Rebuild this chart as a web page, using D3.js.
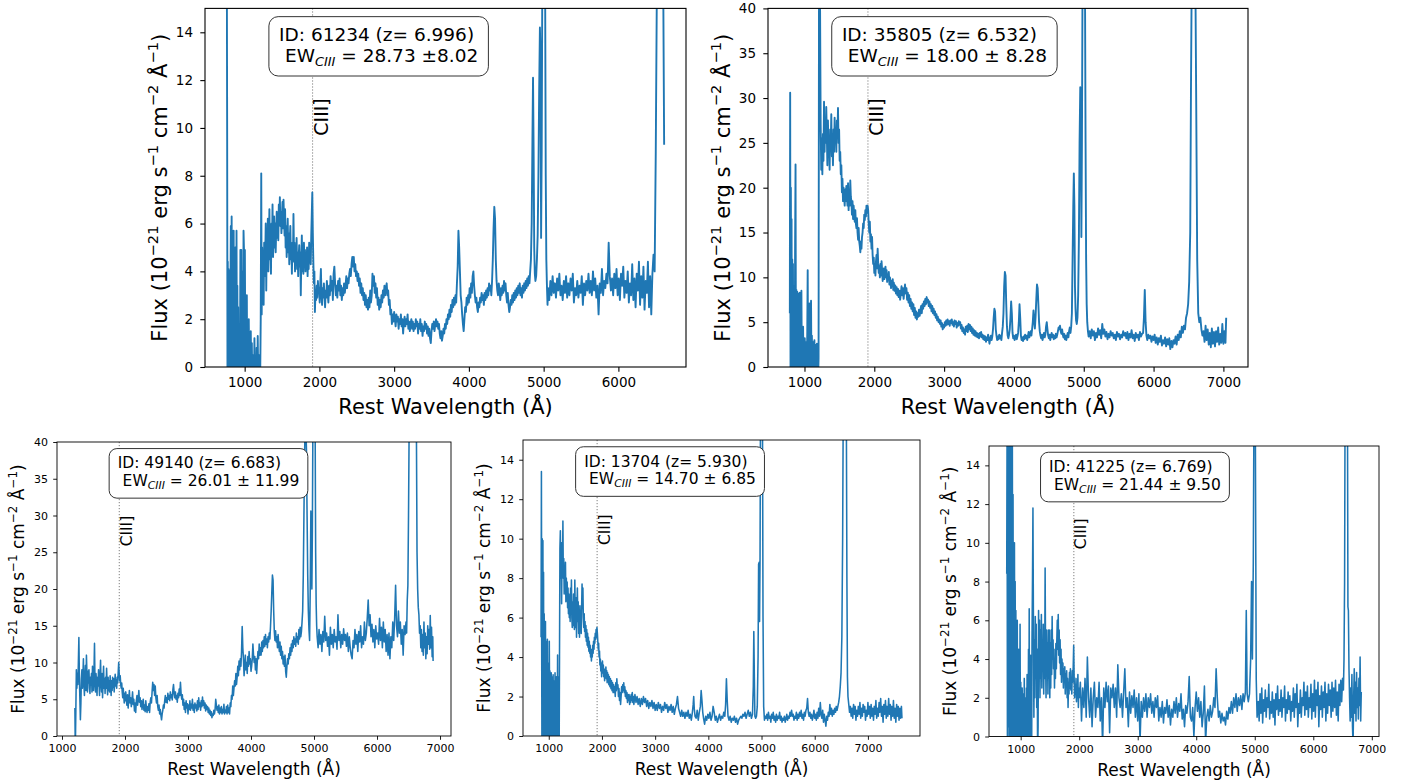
<!DOCTYPE html>
<html lang="en">
<head>
<meta charset="UTF-8" />
<title>CIII] spectra</title>
<script src="https://d3js.org/d3.v7.min.js"></script>
<style>
  body { margin: 0; background: #fff; }
  svg text { font-family: "DejaVu Sans", sans-serif; fill: #000; }
</style>
</head>
<body>
<svg id="fig" width="1411" height="782"></svg>
<script>
// ---- data ----
var ids = ["61234", "35805", "49140", "13704", "41225"];
var redshifts = ["6.996", "6.532", "6.683", "5.930", "6.769"];
var ewText = ["28.73 \u00b18.02", "18.00 \u00b1 8.28", "26.01 \u00b1 11.99", "14.70 \u00b1 6.85", "21.44 \u00b1 9.50"];
var ciiiWave = 1909;
var yMax = [15, 40, 40, 15, 15];
var xTicks = [
  [1000, 2000, 3000, 4000, 5000, 6000],
  [1000, 2000, 3000, 4000, 5000, 6000, 7000],
  [1000, 2000, 3000, 4000, 5000, 6000, 7000],
  [1000, 2000, 3000, 4000, 5000, 6000, 7000],
  [1000, 2000, 3000, 4000, 5000, 6000, 7000]
];
var yTicks = [
  [0, 2, 4, 6, 8, 10, 12, 14],
  [0, 5, 10, 15, 20, 25, 30, 35, 40],
  [0, 5, 10, 15, 20, 25, 30, 35, 40],
  [0, 2, 4, 6, 8, 10, 12, 14],
  [0, 2, 4, 6, 8, 10, 12, 14]
];

// [rest wavelength, flux]
var spec61234 = [[762,16],[766,9.7],[770,0],[774,4.4],[779,-1],[784,4.1],[789,3.8],[794,-1],[799,4.0],[804,-0.5],[809,2.4],[815,5.9],[820,-1],[826,6.3],[831,0.3],[837,5.7],[842,-1],[848,3.1],[853,5.7],[858,-1],[864,2.2],[869,-1],[875,5.0],[880,4.3],[886,-1],[891,5.7],[897,-0.5],[902,3.4],[908,-1],[913,2.5],[919,-1],[925,1.0],[931,1.0],[937,-1],[943,4.9],[949,-1],[955,4.9],[961,0.8],[967,-1],[973,4.0],[979,-1],[985,5.7],[991,4.9],[997,-1],[1003,4.9],[1010,-1],[1016,1.4],[1022,-1],[1029,3.0],[1035,-1],[1042,1.2],[1048,-1],[1055,2.0],[1062,-0.5],[1068,0.9],[1075,-1],[1082,1.5],[1089,-1],[1096,1.0],[1103,-1],[1110,0.5],[1117,-1],[1124,-1],[1131,1.2],[1138,-1],[1146,0.3],[1153,-1],[1160,0.8],[1168,-1],[1175,1.3],[1183,-1],[1190,0.5],[1198,-1],[1206,-1],
[1215,2.0],[1222,8.1],[1228,2.2],[1234,5.0],[1240,3.4],[1247,4.8],[1254,2.6],[1261,5.2],[1268,3.8],[1275,4.5],[1282,6.0],[1289,3.2],[1296,5.5],[1303,4.8],[1310,6.2],[1317,4.0],[1324,5.0],[1331,6.6],[1338,4.5],[1345,5.8],[1352,3.9],[1359,6.0],[1366,5.2],[1373,6.8],[1380,4.6],[1387,5.5],[1394,6.3],[1401,5.0],[1408,6.0],[1415,4.8],[1422,5.7],[1429,6.5],[1436,5.4],[1443,6.1],[1450,5.3],[1457,6.8],[1464,6.0],[1471,7.1],[1478,5.9],[1485,6.5],[1492,5.6],[1499,6.3],[1506,6.9],[1513,5.8],[1520,7.0],[1527,6.2],[1534,5.5],[1541,6.6],[1548,5.0],[1555,5.9],[1562,4.6],[1569,5.5],[1576,6.2],[1583,4.8],[1590,5.6],[1597,4.3],[1604,5.3],[1611,5.9],[1618,4.5],[1625,5.0],[1632,3.9],[1639,5.2],[1646,4.4],[1653,6.4],[1660,4.8],[1667,5.2],[1674,4.0],[1681,5.0],[1688,4.3],[1695,5.4],[1702,4.1],[1709,4.8],[1716,3.8],[1723,4.6],[1730,5.1],[1737,4.2],[1744,4.8],[1751,3.0],[1758,4.5],[1765,5.5],[1772,4.0],[1779,4.6],[1786,3.9],[1793,5.2],[1800,4.4],[1807,4.9],[1814,4.0],[1821,4.7],[1828,4.2],[1835,5.0],[1842,3.8],[1849,4.6],[1856,4.1],[1863,5.2],[1870,4.5],[1877,4.8],[1884,4.3],[1891,5.5],[1898,6.4],[1905,7.3],[1912,5.6],[1919,4.4],[1926,3.5],[1933,4.0],[1940,2.3],[1948,3.2],[1956,2.8],[1964,3.4],[1972,2.9],[1980,3.6],[1988,3.1],[1996,3.3],
[2004,2.7],[2012,3.5],[2020,4.1],[2028,3.0],[2036,2.6],[2044,3.3],[2052,2.9],[2060,3.5],[2068,3.0],[2076,2.5],[2084,3.2],[2092,2.9],[2100,3.6],[2110,3.1],[2120,2.7],[2130,3.4],[2140,3.0],[2150,3.8],[2160,3.2],[2170,3.6],[2180,2.8],[2190,3.9],[2200,4.2],[2210,3.5],[2220,3.0],[2230,3.4],[2240,2.9],[2250,3.6],[2260,3.2],[2270,3.7],[2280,3.0],[2290,3.4],[2300,2.8],[2310,3.3],[2320,3.0],[2330,3.5],[2340,3.1],[2350,3.4],[2360,3.8],[2370,3.3],[2380,3.7],[2390,3.5],[2400,3.9],[2410,4.1],[2420,3.8],[2430,4.3],[2440,4.6],[2450,4.2],[2460,4.6],[2470,4.0],[2480,4.3],[2490,3.8],[2500,4.0],[2510,3.6],[2520,3.9],[2530,3.4],[2540,3.7],[2550,3.1],[2560,3.5],[2570,3.0],[2580,3.3],[2590,2.8],[2600,3.1],[2610,2.6],[2620,3.0],[2630,2.5],[2640,2.8],[2650,2.4],[2660,2.9],[2670,2.5],[2680,3.2],[2690,2.7],[2700,3.0],[2710,3.9],[2720,3.4],[2730,3.8],[2740,3.1],[2750,3.5],[2760,2.9],[2770,3.3],[2780,2.6],[2790,2.9],[2800,2.4],[2810,2.8],[2820,2.5],[2830,3.0],[2840,2.7],[2850,3.2],[2860,2.9],[2870,3.4],[2880,3.0],[2890,3.3],[2900,3.5],[2910,3.0],[2920,3.2],[2930,2.6],[2940,2.8],[2950,2.2],[2960,2.4],[2970,1.8],[2980,2.2],[2990,1.9],
[3000,2.3],[3010,2.0],[3020,1.7],[3030,2.2],[3040,1.9],[3050,2.1],[3060,1.6],[3070,2.0],[3080,1.8],[3090,2.2],[3100,1.7],[3110,2.0],[3120,1.4],[3130,1.9],[3140,2.1],[3150,1.7],[3160,2.0],[3170,1.8],[3180,2.2],[3190,1.6],[3200,1.9],[3210,1.5],[3220,1.8],[3230,2.0],[3240,1.6],[3250,1.9],[3260,1.5],[3270,1.8],[3280,1.6],[3290,2.0],[3300,1.7],[3310,1.9],[3320,1.4],[3330,1.8],[3340,1.6],[3350,2.0],[3360,1.5],[3370,1.8],[3380,1.3],[3390,1.7],[3400,1.5],[3410,1.9],[3420,1.6],[3430,1.8],[3440,1.4],[3450,1.7],[3460,1.3],[3470,1.6],[3480,1.2],[3490,1.0],[3500,1.5],[3510,1.8],[3520,1.6],[3530,1.9],[3540,1.5],[3550,1.8],[3560,2.0],[3570,1.7],[3580,1.9],[3590,1.6],[3600,1.8],[3610,1.4],[3620,1.2],[3630,1.5],[3640,1.1],[3650,1.3],[3660,1.6],[3670,1.4],[3680,1.8],[3690,1.6],[3700,2.0],[3710,1.8],[3720,2.2],[3730,2.0],[3740,2.4],[3750,2.1],[3760,2.6],[3770,2.3],[3780,2.8],[3790,2.5],[3800,2.9],[3810,2.6],[3820,3.0],[3830,2.7],[3840,3.5],[3850,4.2],[3860,5.7],[3870,5.0],[3880,4.0],[3890,3.0],[3900,2.7],[3910,2.2],[3920,1.8],[3930,1.5],[3940,2.0],[3950,2.5],[3960,2.3],[3970,2.9],[3980,2.6],[3990,3.0],
[4000,2.7],[4010,3.3],[4020,2.9],[4030,3.5],[4040,3.1],[4050,3.8],[4060,4.0],[4070,3.4],[4080,3.0],[4090,2.7],[4100,2.9],[4110,2.5],[4120,2.3],[4130,2.7],[4140,2.5],[4150,2.9],[4160,2.7],[4170,3.1],[4180,2.8],[4190,3.0],[4200,2.6],[4210,3.1],[4220,2.8],[4230,3.2],[4240,2.9],[4250,3.3],[4260,3.0],[4270,3.5],[4280,3.2],[4290,3.4],[4300,3.0],[4310,3.6],[4320,4.5],[4330,5.8],[4340,6.7],[4350,6.2],[4360,4.5],[4370,3.6],[4380,3.2],[4390,3.0],[4400,3.5],[4410,3.2],[4420,2.8],[4430,3.3],[4440,3.0],[4450,3.4],[4460,3.1],[4470,3.6],[4480,3.2],[4490,3.5],[4500,3.0],[4510,2.7],[4520,3.1],[4530,2.6],[4540,2.3],[4550,2.5],[4560,2.8],[4570,2.6],[4580,3.0],[4590,2.7],[4600,3.1],[4610,2.8],[4620,3.2],[4630,2.9],[4640,3.3],[4650,3.0],[4660,3.4],[4670,3.1],[4680,3.5],[4690,3.0],[4700,3.3],[4710,2.9],[4720,3.4],[4730,3.1],[4740,3.5],[4750,3.2],[4760,3.6],[4770,3.3],[4780,3.7],[4790,3.4],[4800,3.8],[4810,3.5],[4820,4.0],[4830,4.5],[4840,6.0],[4850,9.5],[4858,12.1],[4866,9.0],[4874,5.0],[4882,3.9],[4890,3.6],[4900,3.8],[4910,4.5],[4920,5.5],[4930,8.0],[4940,11.5],[4950,14.2],[4958,13.0],[4966,5.4],[4974,9.0],[4982,16],[5000,16],[5020,16],[5028,8.0],[5036,4.5],[5044,3.4],[5052,2.6],
[5060,3.3],[5075,2.8],[5090,3.6],[5105,3.0],[5120,3.8],[5135,3.1],[5150,3.5],[5165,2.9],[5180,3.7],[5195,3.2],[5210,3.9],[5225,3.0],[5240,3.4],[5255,2.8],[5270,3.6],[5285,3.1],[5300,3.8],[5315,2.9],[5330,3.5],[5345,3.0],[5360,3.7],[5375,3.2],[5390,3.9],[5405,2.7],[5420,3.3],[5435,3.0],[5450,3.6],[5465,2.9],[5480,3.4],[5495,3.1],[5510,3.8],[5525,2.6],[5540,3.5],[5555,3.0],[5570,3.6],[5585,3.2],[5600,3.9],[5615,3.1],[5630,3.6],[5645,3.0],[5660,4.0],[5675,3.2],[5690,3.7],[5705,2.9],[5720,3.4],[5735,2.2],[5750,3.5],[5765,3.1],[5780,4.1],[5795,3.0],[5810,3.6],[5825,3.3],[5840,3.9],[5855,3.5],[5870,5.2],[5885,3.8],[5900,3.2],[5915,3.7],[5930,3.0],[5945,3.9],[5960,3.3],[5975,4.1],[5990,3.0],[6005,3.7],[6020,2.8],[6035,3.9],[6050,3.4],[6065,4.2],[6080,2.9],[6095,3.6],[6110,3.1],[6125,4.0],[6140,2.7],[6155,3.5],[6170,3.0],[6185,4.3],[6200,2.8],[6215,3.7],[6230,2.5],[6245,3.9],[6260,3.2],[6275,4.4],[6290,2.6],[6305,3.8],[6320,2.9],[6335,4.2],[6350,2.4],[6365,3.6],[6380,3.1],[6395,4.4],[6410,2.5],[6425,3.8],[6440,2.2],[6455,3.9],[6470,4.7],[6485,4.0],[6500,9.0],[6515,16],[6560,16],[6600,16],[6612,9.3]];

var spec35805 = [[790,6],[795,30.6],[800,0],[805,20],[810,3],[815,16.5],[820,-1],[825,12],[830,2],[835,11.5],[840,-1],[845,9],[850,1],[855,8.8],[860,-1],[866,14],[872,22.6],[878,-1],[884,8.6],[890,0.5],[896,8.4],[902,-1],[908,8.2],[914,2],[920,5.6],[926,-1],[932,8.3],[938,1],[944,4.2],[950,-1],[956,8.5],[962,0.5],[968,2.0],[974,-1],[980,4.5],[986,0],[992,2.5],[998,-1],[1004,3.2],[1010,0.3],[1016,1.8],[1022,-1],[1028,2.8],[1034,0],[1040,4.0],[1046,10.8],[1052,-1],[1058,3.0],[1064,0.2],[1070,7.1],[1076,-1],[1082,5.0],[1088,0],[1094,7.4],[1100,-1],[1106,3.5],[1112,0],[1118,2.8],[1124,-1],[1130,2.7],[1136,0],[1142,3.0],[1148,-1],[1154,2.5],[1160,0],[1166,2.2],[1172,-1],[1178,2.6],[1184,0],[1190,1.5],[1196,-1],[1202,1.0],
[1208,42],[1222,42],[1232,27],[1240,22],[1248,25.5],[1256,21.5],[1264,26],[1272,23],[1280,29.6],[1288,24],[1296,27.5],[1304,25],[1312,29],[1320,26],[1328,22.5],[1336,27.5],[1344,24],[1352,25.5],[1360,22],[1368,26.5],[1376,24.5],[1384,28.2],[1392,23.5],[1400,25],[1408,22.5],[1416,26.5],[1424,24],[1432,27.8],[1440,25],[1448,26.5],[1456,24],[1464,27.5],[1472,25.5],[1480,28.9],[1488,25],[1496,26.5],[1504,23],[1512,24],[1520,21.5],[1528,22.5],[1536,19.5],[1544,21],[1552,18.5],[1560,20],[1568,19],[1576,18],[1584,19.8],[1592,18.5],[1600,20.2],[1608,19],[1616,18],[1624,20.5],[1632,17.5],[1640,19.5],[1648,18],[1656,20.8],[1664,19],[1672,18.5],[1680,17],[1688,18.5],[1696,16.5],[1704,18],[1712,17],[1720,16.2],[1728,17.5],[1736,16],[1744,15.5],[1752,16.6],[1760,15],[1768,14.2],[1776,15.5],[1784,14],[1792,13.5],[1800,12.8],[1808,14],[1816,13.2],[1824,14.5],[1832,15],[1840,16],[1848,15.5],[1856,17],[1864,16.4],[1872,17.5],[1880,16.8],[1888,18],[1896,17.2],[1904,18],[1912,17.5],[1920,16],[1928,15],[1936,16.2],[1944,14],[1952,14.8],[1960,13.2],[1968,14.5],[1976,12.5],[1984,11.5],[1992,12.2],
[2000,10.5],[2008,11.5],[2016,10.2],[2024,11.8],[2032,12.5],[2040,11],[2048,13.2],[2056,11.5],[2064,10.5],[2072,11.2],[2080,10],[2088,11.5],[2096,10.2],[2104,11.8],[2112,10.8],[2120,9.6],[2128,10.5],[2136,11],[2144,9.8],[2152,10.6],[2160,11.2],[2168,10],[2176,10.8],[2184,9.5],[2192,10.3],[2200,9.8],[2208,10.6],[2216,9.2],[2224,10],[2232,9.5],[2240,8.8],[2248,9.6],[2256,9],[2264,9.8],[2272,8.6],[2280,9.4],[2290,8.5],[2300,9.1],[2310,8.2],[2320,8.9],[2330,8],[2340,8.7],[2350,7.8],[2360,8.5],[2370,7.5],[2380,8.2],[2390,9],[2400,8],[2410,8.8],[2420,7.6],[2430,8.5],[2440,9.2],[2450,8.2],[2460,8.8],[2470,7.5],[2480,8.3],[2490,7.2],[2500,8],[2510,6.8],[2520,7.6],[2530,6.5],[2540,7.2],[2550,6.2],[2560,7],[2570,5.8],[2580,6.6],[2590,5.5],[2600,6.2],[2610,5.3],[2620,6.0],[2630,5.6],[2640,6.4],[2650,5.7],[2660,6.3],[2670,6.8],[2680,6.0],[2690,7.0],[2700,6.5],[2710,7.3],[2720,6.8],[2730,7.6],[2740,7.0],[2750,7.8],[2760,7.2],[2770,7.5],[2780,6.8],[2790,7.3],[2800,6.6],[2810,7.0],[2820,6.2],[2830,6.8],[2840,6.0],[2850,6.5],[2860,5.8],[2870,6.2],[2880,5.5],[2890,5.9],[2900,5.2],[2910,5.6],[2920,5.0],[2930,5.3],[2940,4.8],[2950,5.2],[2960,4.5],[2970,4.9],[2980,4.2],[2990,4.7],
[3000,4.4],[3010,5.0],[3020,4.6],[3030,5.2],[3040,4.7],[3050,5.3],[3060,4.8],[3070,5.1],[3080,4.6],[3090,5.2],[3100,4.9],[3110,5.3],[3120,4.7],[3130,5.0],[3140,4.5],[3150,5.2],[3160,4.8],[3170,5.1],[3180,4.4],[3190,4.9],[3200,4.6],[3210,5.1],[3220,4.7],[3230,5.0],[3240,4.3],[3250,4.7],[3260,4.0],[3270,4.4],[3280,3.8],[3290,4.2],[3300,3.6],[3310,4.5],[3320,4.0],[3330,4.6],[3340,3.9],[3350,4.8],[3360,4.2],[3370,4.7],[3380,4.0],[3390,4.5],[3400,3.8],[3410,4.3],[3420,3.6],[3430,4.1],[3440,3.5],[3450,4.0],[3460,3.4],[3470,3.8],[3480,3.3],[3490,3.7],[3500,3.2],[3510,3.8],[3520,3.4],[3530,3.9],[3540,3.3],[3550,3.6],[3560,3.1],[3570,3.5],[3580,3.0],[3590,3.4],[3600,2.8],[3610,3.3],[3620,3.0],[3630,3.6],[3640,3.1],[3650,2.6],[3660,3.2],[3670,3.5],[3680,3.0],[3690,3.4],[3700,4.2],[3710,5.5],[3720,6.5],[3730,6.2],[3740,4.2],[3750,3.5],[3760,3.0],[3770,3.4],[3780,3.1],[3790,3.6],[3800,3.2],[3810,3.5],[3820,3.0],[3830,3.8],[3840,4.5],[3850,6.0],[3860,9.0],[3870,10.6],[3880,10.2],[3890,7.0],[3900,4.5],[3910,3.5],[3920,3.2],[3930,3.6],[3940,4.2],[3950,5.5],[3960,7.3],[3970,6.0],[3980,3.8],[3990,3.2],
[4000,3.5],[4010,3.0],[4020,3.3],[4030,3.6],[4040,3.1],[4050,3.4],[4060,3.8],[4070,5.0],[4080,7.0],[4090,5.5],[4100,3.5],[4110,3.0],[4120,3.3],[4130,2.9],[4140,3.4],[4150,3.1],[4160,3.6],[4170,3.2],[4180,3.5],[4190,3.0],[4200,3.4],[4210,3.9],[4220,3.3],[4230,3.6],[4240,4.0],[4250,3.5],[4260,4.2],[4270,5.0],[4280,6.3],[4290,5.2],[4300,4.3],[4310,5.6],[4320,7.5],[4330,9.2],[4340,8.8],[4350,7.0],[4360,5.0],[4370,4.0],[4380,3.5],[4390,3.2],[4400,3.6],[4410,3.0],[4420,3.4],[4430,3.8],[4440,3.3],[4450,3.6],[4460,4.5],[4470,5.0],[4480,4.2],[4490,3.5],[4500,3.2],[4510,3.6],[4520,3.0],[4530,3.4],[4540,3.8],[4550,3.3],[4560,3.6],[4570,3.1],[4580,3.5],[4590,3.2],[4600,3.7],[4610,3.3],[4620,3.6],[4630,4.0],[4640,4.4],[4650,4.2],[4660,4.6],[4670,4.0],[4680,3.7],[4690,4.2],[4700,3.6],[4710,3.3],[4720,3.7],[4730,3.1],[4740,3.5],[4750,3.0],[4760,3.4],[4770,3.8],[4780,3.3],[4790,4.0],[4800,4.4],[4810,3.8],[4820,4.5],[4830,6.0],[4840,12],[4850,18],[4858,21.6],[4866,18],[4874,9.0],[4882,6.5],[4890,5.2],[4900,4.8],[4910,5.5],[4920,8.0],[4930,14],[4940,25],[4950,31.2],[4958,28],[4966,14.5],[4974,25],[4982,42],[5000,42],[5018,42],[5026,25],[5034,12],[5042,7.0],[5050,5.0],[5060,4.0],[5070,3.4],
[5085,4.0],[5100,3.2],[5115,4.2],[5130,3.5],[5145,4.0],[5160,3.0],[5175,3.8],[5190,3.3],[5205,4.3],[5220,3.6],[5235,4.1],[5250,3.2],[5265,4.8],[5280,3.7],[5295,4.2],[5310,3.4],[5325,3.9],[5340,3.1],[5355,3.7],[5370,3.3],[5385,4.0],[5400,3.5],[5415,3.8],[5430,3.2],[5445,3.6],[5460,3.0],[5475,3.9],[5490,3.4],[5505,3.7],[5520,3.1],[5535,3.6],[5550,3.3],[5565,4.0],[5580,3.5],[5595,3.8],[5610,3.2],[5625,3.9],[5640,3.0],[5655,3.7],[5670,3.3],[5685,4.1],[5700,3.2],[5715,3.6],[5730,2.9],[5745,3.8],[5760,3.3],[5775,3.6],[5790,3.0],[5805,3.9],[5820,3.4],[5835,3.7],[5850,3.8],[5862,5.5],[5874,8.6],[5886,5.0],[5898,3.5],[5910,3.0],[5925,3.6],[5940,3.2],[5955,3.5],[5970,2.8],[5985,3.4],[6000,3.0],[6015,3.6],[6030,2.7],[6045,3.3],[6060,2.5],[6075,3.2],[6090,2.8],[6105,3.5],[6120,2.4],[6135,3.0],[6150,2.6],[6165,3.3],[6180,2.3],[6195,3.1],[6210,2.5],[6225,3.2],[6240,2.0],[6255,2.9],[6270,2.2],[6285,3.0],[6300,2.6],[6315,3.4],[6330,2.5],[6345,3.6],[6360,3.0],[6375,4.0],[6390,3.3],[6405,4.5],[6420,3.8],[6435,4.6],[6450,4.2],[6465,5.5],[6480,6.0],[6495,7.0],[6510,9.5],[6525,15],[6535,30],[6545,42],[6600,42],[6612,28],[6625,12],[6640,6.0],[6655,5.0],[6670,5.5],[6685,4.2],[6700,3.5],[6715,4.0],[6730,2.8],[6745,4.6],[6760,3.0],[6775,4.2],[6790,2.5],[6805,3.8],[6820,2.2],[6835,4.3],[6850,2.6],[6865,3.9],[6880,2.3],[6895,4.0],[6910,2.8],[6925,4.4],[6940,2.5],[6955,3.7],[6970,2.7],[6985,4.8],[7000,2.6],[7015,4.0],[7030,2.7],[7040,5.5]];

var spec49140 = [[1205,3.8],[1210,-1],[1215,0.3],[1220,3.5],[1228,9.0],[1236,6.5],[1244,8.5],[1252,7.0],[1260,10.0],[1268,13.4],[1276,8.0],[1284,5.0],[1292,2.2],[1300,4.5],[1308,7.8],[1316,9.0],[1324,6.5],[1332,8.2],[1340,10.5],[1348,7.0],[1356,5.5],[1364,8.0],[1372,9.6],[1380,6.2],[1388,11.0],[1396,8.5],[1404,6.0],[1412,8.8],[1420,7.2],[1428,9.0],[1436,6.5],[1444,5.8],[1452,8.0],[1460,7.0],[1468,8.5],[1476,6.0],[1484,9.5],[1492,7.5],[1500,6.2],[1508,8.8],[1516,12.6],[1524,7.0],[1532,6.0],[1540,8.5],[1548,7.2],[1556,5.5],[1564,8.0],[1572,6.8],[1580,9.0],[1588,7.0],[1596,5.5],[1604,8.2],[1612,10.3],[1620,7.0],[1628,6.0],[1636,8.5],[1644,5.2],[1652,7.5],[1660,9.5],[1668,6.5],[1676,7.8],[1684,5.8],[1692,8.0],[1700,6.5],[1708,9.2],[1716,7.0],[1724,5.6],[1732,8.0],[1740,6.2],[1748,7.5],[1756,6.0],[1764,8.2],[1772,6.8],[1780,5.5],[1788,7.5],[1796,6.2],[1804,8.0],[1812,6.6],[1820,7.8],[1828,6.0],[1836,7.2],[1844,8.4],[1852,6.8],[1860,7.6],[1868,6.5],[1876,8.0],[1884,7.2],[1892,8.6],[1900,10.0],[1908,8.5],[1916,7.5],[1924,8.2],[1932,7.0],[1940,6.5],[1948,7.2],[1956,6.0],[1964,5.2],[1972,6.5],[1980,5.5],[1988,4.5],[1996,5.8],
[2004,4.8],[2012,6.0],[2020,5.0],[2030,4.2],[2040,5.6],[2050,3.8],[2060,5.0],[2070,6.2],[2080,4.5],[2090,5.2],[2100,4.0],[2110,4.8],[2120,6.0],[2130,4.3],[2140,5.0],[2150,3.4],[2160,4.5],[2170,3.2],[2180,4.8],[2190,5.5],[2200,4.2],[2210,5.0],[2220,6.2],[2230,4.6],[2240,5.2],[2250,4.0],[2260,4.8],[2270,3.6],[2280,4.5],[2290,5.0],[2300,3.5],[2310,4.2],[2320,3.3],[2330,4.8],[2340,3.8],[2350,3.2],[2360,4.0],[2370,3.5],[2380,4.4],[2390,3.2],[2400,4.6],[2410,5.2],[2420,4.5],[2430,6.0],[2440,7.3],[2450,6.2],[2460,7.0],[2470,5.5],[2480,6.8],[2490,5.2],[2500,4.5],[2510,5.5],[2520,4.0],[2530,3.5],[2540,4.2],[2550,3.0],[2560,3.6],[2570,2.8],[2580,2.2],[2590,3.0],[2600,3.5],[2610,4.2],[2620,3.8],[2630,4.8],[2640,5.5],[2650,4.6],[2660,5.2],[2670,4.5],[2680,5.8],[2690,5.0],[2700,5.5],[2710,4.8],[2720,6.0],[2730,5.2],[2740,5.6],[2750,4.9],[2760,6.3],[2770,7.0],[2780,5.8],[2790,5.2],[2800,6.0],[2810,5.0],[2820,5.5],[2830,4.6],[2840,5.8],[2850,5.2],[2860,6.4],[2870,5.5],[2880,7.3],[2890,5.8],[2900,5.0],[2910,5.6],[2920,4.2],[2930,5.0],[2940,3.6],[2950,4.5],[2960,3.2],[2970,4.8],[2980,3.8],[2990,4.4],
[3000,3.0],[3010,4.2],[3020,3.6],[3030,4.8],[3040,3.5],[3050,4.3],[3060,3.8],[3070,5.0],[3080,3.5],[3090,4.2],[3100,3.2],[3110,4.5],[3120,3.8],[3130,4.2],[3140,3.4],[3150,4.8],[3160,3.6],[3170,5.2],[3180,4.0],[3190,4.5],[3200,3.5],[3210,4.8],[3220,4.0],[3230,5.3],[3240,4.2],[3250,4.8],[3260,3.8],[3270,4.5],[3280,3.4],[3290,4.2],[3300,3.6],[3310,4.0],[3320,3.2],[3330,3.8],[3340,3.0],[3350,3.5],[3360,2.8],[3370,3.3],[3380,2.5],[3390,3.0],[3400,2.8],[3410,3.5],[3420,3.0],[3430,3.6],[3440,5.0],[3450,4.2],[3460,3.5],[3470,4.0],[3480,3.2],[3490,4.2],[3500,3.0],[3510,3.8],[3520,3.2],[3530,4.0],[3540,3.0],[3550,3.6],[3560,3.2],[3570,4.3],[3580,3.0],[3590,3.5],[3600,3.2],[3610,4.0],[3620,3.0],[3630,4.2],[3640,3.2],[3650,3.8],[3660,3.0],[3670,4.5],[3680,4.0],[3690,5.5],[3700,5.0],[3710,6.8],[3720,5.5],[3730,6.5],[3740,7.5],[3750,6.8],[3760,8.5],[3770,7.0],[3780,8.0],[3790,9.5],[3800,8.2],[3810,10.2],[3820,9.0],[3830,10.5],[3840,9.5],[3850,11.5],[3860,14.9],[3870,12.0],[3880,10.5],[3890,8.2],[3900,9.5],[3910,11.0],[3920,9.0],[3930,10.0],[3940,8.5],[3950,10.8],[3960,9.5],[3970,11.5],[3980,9.8],[3990,10.5],
[4000,8.8],[4010,9.5],[4020,10.5],[4030,12.5],[4040,11.0],[4050,10.0],[4060,10.8],[4070,9.0],[4080,10.5],[4090,8.5],[4100,10.2],[4110,11.5],[4120,10.5],[4130,12.5],[4140,11.0],[4150,12.0],[4160,11.0],[4170,12.8],[4180,11.5],[4190,13.0],[4200,12.0],[4210,13.5],[4220,12.2],[4230,13.8],[4240,12.5],[4250,13.2],[4260,12.0],[4270,13.5],[4280,12.8],[4290,14.0],[4300,13.2],[4310,15.0],[4320,17.0],[4330,19.5],[4340,21.9],[4350,21.2],[4360,17.0],[4370,14.2],[4380,13.0],[4390,14.3],[4400,12.8],[4410,13.5],[4420,12.0],[4430,13.8],[4440,12.5],[4450,11.5],[4460,12.8],[4470,11.0],[4480,12.2],[4490,10.5],[4500,11.5],[4510,9.8],[4520,10.8],[4530,9.5],[4540,11.0],[4550,8.8],[4560,8.0],[4570,9.5],[4580,10.5],[4590,9.8],[4600,11.2],[4610,10.5],[4620,12.0],[4630,11.0],[4640,12.5],[4650,11.5],[4660,13.0],[4670,12.0],[4680,13.5],[4690,12.5],[4700,13.2],[4710,12.2],[4720,14.0],[4730,12.8],[4740,13.5],[4750,12.5],[4760,14.5],[4770,13.2],[4780,14.8],[4790,13.5],[4800,14.2],[4810,15.5],[4820,17.0],[4830,22],[4840,30],[4850,38],[4858,42],[4870,42],[4880,39],[4890,30],[4900,22],[4910,17],[4920,14.5],[4930,13.0],[4940,20],[4950,30.6],[4958,25],[4966,20],[4974,28],[4982,42],[5000,42],[5018,42],[5026,25],[5034,18],[5042,15.0],[5050,13.5],
[5065,12.0],[5080,14.5],[5095,12.5],[5110,13.8],[5125,11.5],[5140,14.2],[5155,12.8],[5170,16.3],[5185,13.0],[5200,14.0],[5215,12.2],[5230,13.5],[5245,11.0],[5260,14.8],[5275,12.5],[5290,13.8],[5305,12.0],[5320,14.5],[5335,12.8],[5350,13.5],[5365,11.8],[5380,16.5],[5395,13.0],[5410,14.2],[5425,12.0],[5440,13.8],[5455,12.5],[5470,14.6],[5485,13.0],[5500,13.8],[5515,12.2],[5530,14.0],[5545,11.5],[5560,13.5],[5575,12.0],[5590,11.0],[5605,10.5],[5620,13.0],[5635,12.0],[5650,14.5],[5665,12.5],[5680,13.8],[5695,11.5],[5710,14.2],[5725,12.8],[5740,15.0],[5755,12.0],[5770,13.5],[5785,12.5],[5800,15.5],[5815,13.0],[5830,14.0],[5845,16.0],[5860,18.5],[5875,15.0],[5890,16.5],[5905,13.5],[5920,15.2],[5935,12.8],[5950,14.5],[5965,12.0],[5980,15.0],[5995,13.2],[6010,14.0],[6025,12.5],[6040,16.0],[6055,13.0],[6070,14.8],[6085,12.0],[6100,15.5],[6115,12.8],[6130,14.5],[6145,11.5],[6160,13.8],[6175,11.0],[6190,14.0],[6205,10.5],[6220,13.5],[6235,12.0],[6250,15.5],[6265,13.0],[6280,16.0],[6295,20.5],[6310,15.0],[6325,13.5],[6340,17.0],[6355,14.0],[6370,15.5],[6385,12.5],[6400,14.5],[6415,11.0],[6430,15.0],[6445,13.8],[6460,15.5],[6470,14.0],[6480,18.5],[6490,20.5],[6500,30],[6510,42],[6625,42],[6635,25],[6645,20],[6655,17.5],[6665,16.5],[6675,14.0],[6685,15.0],[6695,12.0],[6705,14.5],[6715,11.5],[6725,13.8],[6735,11.0],[6745,15.5],[6755,12.0],[6765,14.0],[6775,10.5],[6785,13.5],[6795,11.2],[6805,15.0],[6815,12.5],[6825,14.5],[6835,11.8],[6845,16.4],[6855,12.0],[6865,14.8],[6875,10.8],[6885,13.5],[6890,10.2]];

var spec13704 = [[855,5],[862,13.4],[867,4.6],[872,-1],[878,10.0],[884,-1],[890,9.9],[896,0.5],[902,8.3],[908,-1],[914,6.2],[920,1.0],[926,5.0],[932,-1],[938,5.8],[944,0.5],[950,4.8],[956,-1],[962,4.0],[968,0.5],[974,4.9],[980,-1],[986,3.7],[992,1.2],[998,3.0],[1004,-1],[1010,4.8],[1016,1.5],[1022,3.3],[1028,-1],[1034,2.8],[1040,0.8],[1046,3.2],[1052,-1],[1058,3.0],[1064,0.5],[1070,2.5],[1076,-1],[1082,3.1],[1088,1.0],[1094,2.2],[1100,-1],[1106,2.8],[1112,0.3],[1118,3.2],[1124,-1],[1130,2.0],[1136,0.8],[1142,3.0],[1148,-1],[1154,2.6],[1160,0],[1166,4.1],[1172,-1],[1178,1.5],[1184,0],[1190,3.0],[1196,-0.5],[1202,4.0],
[1210,9.5],[1218,10.4],[1226,8.0],[1234,9.8],[1242,6.7],[1250,9.5],[1258,8.2],[1266,10.9],[1274,8.0],[1282,9.0],[1290,7.2],[1298,8.5],[1306,7.8],[1314,8.8],[1322,6.8],[1330,8.0],[1338,7.0],[1346,7.8],[1354,6.5],[1362,7.5],[1370,6.2],[1378,7.2],[1386,6.0],[1394,7.0],[1402,5.8],[1410,7.5],[1418,6.2],[1426,7.9],[1434,6.0],[1442,5.5],[1450,6.8],[1458,5.6],[1466,7.2],[1474,6.0],[1482,5.4],[1490,7.9],[1498,6.2],[1506,5.5],[1514,7.0],[1522,5.0],[1530,6.5],[1538,7.5],[1546,5.8],[1554,6.8],[1562,5.2],[1570,6.2],[1578,5.0],[1586,6.6],[1594,5.5],[1602,6.0],[1610,5.2],[1618,6.5],[1626,7.7],[1634,6.5],[1642,7.5],[1650,6.0],[1658,5.5],[1666,6.2],[1674,5.3],[1682,5.8],[1690,5.0],[1698,5.6],[1706,4.8],[1714,5.4],[1722,4.6],[1730,5.2],[1738,4.5],[1746,5.0],[1754,4.3],[1762,4.8],[1770,4.2],[1778,4.6],[1786,4.0],[1794,4.4],[1802,3.8],[1810,4.3],[1818,4.0],[1826,4.6],[1834,4.2],[1842,4.8],[1850,4.4],[1858,5.0],[1866,4.7],[1874,5.2],[1882,4.9],[1890,5.4],[1898,5.0],[1906,5.5],[1914,5.2],[1922,4.8],[1930,4.4],[1938,4.7],[1946,4.0],[1954,4.3],[1962,3.6],[1970,3.9],[1978,3.3],[1986,3.7],[1994,3.0],
[2002,3.5],[2010,3.8],[2018,3.2],[2026,3.6],[2034,3.0],[2042,3.4],[2050,2.8],[2058,3.3],[2066,3.0],[2074,3.5],[2082,2.9],[2090,3.3],[2098,2.7],[2106,3.2],[2114,2.8],[2122,3.1],[2130,2.6],[2140,3.0],[2150,2.5],[2160,2.9],[2170,2.4],[2180,2.8],[2190,2.3],[2200,2.7],[2210,2.2],[2220,2.6],[2230,2.2],[2240,2.5],[2250,2.0],[2260,2.7],[2270,2.3],[2280,2.9],[2290,2.4],[2300,2.6],[2310,2.0],[2320,2.4],[2330,1.8],[2340,2.2],[2350,1.6],[2360,2.0],[2370,2.5],[2380,2.2],[2390,2.6],[2400,2.3],[2410,2.7],[2420,2.2],[2430,2.5],[2440,2.0],[2450,2.3],[2460,1.9],[2470,2.2],[2480,1.7],[2490,2.1],[2500,1.8],[2510,2.1],[2520,1.6],[2530,2.0],[2540,1.7],[2550,2.1],[2560,1.8],[2570,2.2],[2580,1.7],[2590,2.0],[2600,1.6],[2620,2.1],[2640,1.7],[2660,2.0],[2680,1.6],[2700,1.9],[2720,1.5],[2740,1.9],[2760,1.6],[2780,2.0],[2800,1.7],[2820,1.9],[2840,1.5],[2860,1.8],[2880,1.4],[2900,1.7],[2920,1.5],[2940,1.8],[2960,1.4],[2980,1.7],
[3000,1.3],[3020,1.6],[3040,1.3],[3060,1.7],[3080,1.4],[3100,1.6],[3120,1.2],[3140,1.5],[3160,1.3],[3180,1.7],[3200,1.4],[3220,1.6],[3240,1.2],[3260,1.5],[3280,1.3],[3300,1.6],[3320,1.2],[3340,1.5],[3360,1.1],[3380,1.4],[3400,1.6],[3420,2.0],[3440,1.4],[3460,1.2],[3480,1.0],[3500,1.3],[3520,1.0],[3540,1.2],[3560,0.9],[3580,1.2],[3600,1.0],[3620,1.3],[3640,0.9],[3660,1.1],[3680,0.8],[3700,1.2],[3715,1.6],[3725,2.0],[3735,1.4],[3750,1.0],[3770,0.9],[3790,1.3],[3810,0.8],[3830,1.2],[3850,1.5],[3865,2.3],[3880,1.8],[3895,1.2],[3910,0.9],[3930,0.6],[3950,1.0],[3970,0.8],[3990,1.1],[4010,0.9],[4030,1.2],[4050,0.8],[4070,1.0],[4090,1.5],[4110,1.2],[4130,0.8],[4150,1.0],[4170,0.7],[4190,0.9],[4210,1.1],[4230,0.8],[4250,1.0],[4270,0.9],[4290,1.2],[4310,1.0],[4325,1.6],[4340,2.9],[4355,1.8],[4370,1.0],[4390,0.8],[4410,1.0],[4430,0.7],[4450,0.9],[4470,0.8],[4490,1.0],[4510,0.7],[4530,0.9],[4550,0.6],[4570,0.8],[4590,0.9],[4610,1.0],[4630,0.9],[4650,1.1],[4670,1.0],[4690,1.2],[4710,0.9],[4730,1.1],[4750,1.3],[4770,1.0],[4790,1.2],[4810,0.9],[4830,1.1],[4845,2.5],[4855,5.3],[4865,3.0],[4875,1.0],[4890,0.9],[4905,1.0],[4920,1.5],[4935,4.0],[4945,8.7],[4955,8.8],[4963,5.8],[4972,9.0],[4980,16],[5000,16],[5018,16],[5028,6.0],[5040,1.5],[5055,0.8],[5070,1.0],
[5085,0.9],[5100,1.1],[5115,0.8],[5130,1.2],[5145,0.9],[5160,1.0],[5175,0.7],[5190,1.1],[5205,0.9],[5220,1.2],[5235,0.8],[5250,1.0],[5265,0.7],[5280,1.1],[5295,0.8],[5310,1.0],[5325,0.9],[5340,1.2],[5355,0.8],[5370,1.0],[5385,0.7],[5400,0.9],[5415,0.8],[5430,1.0],[5445,0.7],[5460,0.9],[5475,1.1],[5490,0.8],[5505,1.0],[5520,0.9],[5535,1.2],[5550,1.0],[5565,1.3],[5580,1.0],[5595,1.1],[5610,0.8],[5625,1.0],[5640,0.9],[5655,1.2],[5670,0.8],[5685,1.1],[5700,0.9],[5715,1.2],[5730,1.0],[5745,1.3],[5760,0.9],[5775,1.1],[5790,0.8],[5805,1.2],[5820,1.0],[5835,1.3],[5850,1.4],[5865,1.9],[5880,1.2],[5895,1.0],[5910,1.2],[5925,0.9],[5940,1.1],[5955,0.8],[5970,1.0],[5985,1.3],[6000,0.9],[6015,1.1],[6030,0.8],[6045,1.2],[6060,0.9],[6075,1.4],[6090,1.0],[6105,1.7],[6120,1.1],[6135,0.9],[6150,1.3],[6165,0.7],[6180,1.1],[6195,0.8],[6210,0.5],[6225,1.0],[6240,0.8],[6255,1.2],[6270,1.0],[6285,1.6],[6300,1.1],[6315,1.4],[6330,1.0],[6345,1.3],[6360,1.1],[6375,1.4],[6390,1.2],[6405,1.5],[6420,1.3],[6435,1.5],[6450,1.7],[6465,2.0],[6480,2.5],[6495,3.2],[6510,5.0],[6525,10],[6535,16],[6595,16],[6605,8],[6615,3.0],[6625,2.0],[6640,1.6],[6655,1.2],[6670,1.5],
[6685,1.0],[6700,1.4],[6715,0.9],[6730,1.6],[6745,1.1],[6760,1.5],[6775,0.8],[6790,1.3],[6805,1.0],[6820,1.5],[6835,1.1],[6850,1.7],[6865,0.9],[6880,1.4],[6895,1.0],[6910,1.6],[6925,1.2],[6940,1.5],[6955,0.8],[6970,1.3],[6985,1.0],[7000,1.7],[7015,1.1],[7030,1.5],[7045,0.9],[7060,1.6],[7075,1.0],[7090,1.4],[7105,0.8],[7120,1.5],[7135,1.1],[7150,1.8],[7165,0.9],[7180,1.4],[7195,1.0],[7210,1.7],[7225,1.2],[7240,1.9],[7255,1.0],[7270,1.5],[7285,0.7],[7300,1.6],[7315,1.1],[7330,1.8],[7345,0.9],[7360,1.5],[7375,1.0],[7390,1.9],[7405,1.1],[7420,1.6],[7435,0.8],[7450,1.5],[7465,1.0],[7480,1.8],[7495,0.9],[7510,1.4],[7525,0.7],[7540,1.6],[7555,1.0],[7570,1.5],[7585,0.8],[7600,1.4],[7615,0.9],[7630,1.5],[7640,0.9]];

var spec41225 = [[762,8.4],[768,16],[774,-1],[780,16],[786,0.5],[792,13],[798,16],[804,-1],[810,16],[816,2],[822,14],[828,-1],[834,16],[840,0.5],[846,12.5],[852,-1],[858,15.5],[864,2.0],[870,12.5],[876,-1],[882,8.7],[888,0.5],[894,10.0],[900,-1],[906,8.0],[912,0.5],[918,6.5],[924,-1],[930,5.0],[936,1.0],[942,6.0],[948,-1],[954,3.0],[960,0.2],[966,4.5],[972,-1],[978,2.5],[984,0.5],[990,5.8],[996,-1],[1002,2.8],[1008,0.3],[1014,2.0],[1020,-1],[1026,2.5],[1032,0.5],[1038,1.8],[1044,-1],[1050,2.2],[1056,0.2],[1062,3.0],[1068,-1],[1074,1.5],[1080,0.5],[1086,2.0],[1092,-1],[1098,2.5],[1104,0],[1110,3.2],[1116,-1],[1122,1.8],[1128,0.5],[1134,4.5],[1140,-1],[1146,6.6],[1152,0.3],[1158,2.5],[1164,-1],[1170,4.2],[1176,0.5],[1182,2.8],[1188,-1],[1194,5.0],
[1202,8.0],[1210,11.8],[1218,6.0],[1226,1.0],[1234,5.0],[1242,2.0],[1250,6.2],[1258,3.0],[1266,5.8],[1274,1.5],[1282,4.5],[1290,-1],[1298,0.5],[1306,6.5],[1314,3.5],[1322,6.0],[1330,2.0],[1338,5.5],[1346,3.0],[1354,6.3],[1362,2.5],[1370,5.0],[1378,3.5],[1386,5.8],[1394,2.2],[1402,4.5],[1410,3.0],[1418,8.7],[1426,4.0],[1434,2.0],[1442,5.5],[1450,3.5],[1458,4.8],[1466,2.2],[1474,5.5],[1482,3.0],[1490,5.5],[1498,2.0],[1506,4.8],[1514,2.5],[1522,5.5],[1530,3.2],[1538,6.2],[1546,4.0],[1554,5.0],[1562,3.5],[1570,4.5],[1578,2.5],[1586,4.0],[1594,3.0],[1602,4.8],[1610,3.5],[1618,5.0],[1626,6.0],[1634,4.5],[1642,6.3],[1650,4.2],[1658,5.5],[1666,3.8],[1674,5.0],[1682,3.2],[1690,4.5],[1698,2.8],[1706,4.0],[1714,3.2],[1722,3.8],[1730,2.5],[1738,3.5],[1746,2.8],[1754,3.6],[1762,2.2],[1770,3.2],[1778,2.6],[1786,3.4],[1794,2.0],[1802,3.0],[1810,1.5],[1818,2.8],[1826,2.2],[1834,3.3],[1842,2.5],[1850,3.5],[1858,2.4],[1866,3.0],[1874,2.2],[1882,3.4],[1890,2.8],[1898,3.6],[1906,4.7],[1914,3.0],[1922,2.0],[1930,2.6],[1938,2.2],[1946,3.0],[1954,1.8],[1962,2.6],[1970,2.0],[1978,3.2],[1986,1.5],[1994,2.5],[2002,2.0],
[2020,2.8],[2040,0.8],[2060,2.5],[2080,1.5],[2100,3.0],[2120,1.0],[2140,4.1],[2160,2.0],[2180,1.0],[2200,2.5],[2220,0.5],[2240,2.0],[2260,2.8],[2280,1.0],[2300,2.0],[2320,1.5],[2340,2.8],[2360,0.8],[2380,2.0],[2400,-0.5],[2420,2.5],[2440,1.5],[2460,2.8],[2480,1.8],[2500,2.6],[2520,0.2],[2540,2.5],[2560,2.0],[2580,2.7],[2600,1.5],[2620,2.5],[2640,1.0],[2660,3.7],[2680,2.0],[2700,1.5],[2720,2.2],[2740,1.0],[2760,2.3],[2780,3.5],[2800,1.5],[2820,2.0],[2840,0.5],[2860,2.3],[2880,1.2],[2900,2.1],[2920,1.5],[2940,2.4],[2960,1.0],[2980,2.0],[3000,0.8],[3020,2.2],[3040,-0.3],[3060,1.8],[3080,1.0],[3100,2.0],[3120,1.3],[3140,2.2],[3160,1.0],[3180,2.0],[3200,1.5],[3220,2.2],[3240,1.2],[3260,1.8],[3280,1.0],[3300,2.0],[3320,1.5],[3340,2.1],[3360,0.8],[3380,1.5],[3400,1.0],[3420,1.8],[3440,0.7],[3460,1.5],[3480,1.2],[3500,1.9],[3520,1.0],[3540,1.6],[3560,0.6],[3580,1.4],[3600,1.0],[3620,1.8],[3640,1.2],[3660,2.0],[3680,1.0],[3700,1.7],[3720,1.3],[3740,2.2],[3760,0.9],[3780,1.4],[3800,0.5],[3820,1.6],[3840,1.2],[3860,1.8],[3880,3.1],[3900,1.0],[3920,0.8],[3940,1.5],[3960,0.0],[3980,1.5],
[4000,2.3],[4020,1.3],[4040,2.0],[4060,1.0],[4080,1.8],[4100,0.5],[4120,1.2],[4140,2.6],[4160,-0.3],[4180,1.0],[4200,1.4],[4220,0.8],[4240,1.6],[4260,1.0],[4280,1.3],[4300,2.0],[4320,1.5],[4340,3.5],[4360,2.0],[4380,1.0],[4400,1.3],[4420,0.7],[4440,1.2],[4460,0.8],[4480,1.0],[4500,0.6],[4520,1.3],[4540,0.9],[4560,1.5],[4580,1.2],[4600,1.8],[4620,1.2],[4640,2.0],[4660,1.5],[4680,2.2],[4700,1.3],[4720,2.0],[4740,1.6],[4760,2.1],[4780,1.4],[4800,2.2],[4820,1.8],[4840,2.3],[4855,6.5],[4870,2.2],[4890,1.8],[4910,2.2],[4930,4.0],[4945,8.0],[4960,4.0],[4975,9],[4985,16],[5010,16],[5025,3.0],[5040,1.0],
[5060,1.8],[5075,0.8],[5090,2.2],[5105,1.2],[5120,2.5],[5135,0.7],[5150,1.9],[5165,1.3],[5180,2.4],[5195,1.0],[5210,2.0],[5225,1.5],[5240,2.7],[5255,0.9],[5270,1.8],[5285,1.2],[5300,2.3],[5315,1.0],[5330,1.9],[5345,0.6],[5360,2.2],[5375,1.4],[5390,2.6],[5405,1.1],[5420,1.9],[5435,1.3],[5450,2.4],[5465,1.0],[5480,2.0],[5495,1.5],[5510,2.6],[5525,0.8],[5540,1.9],[5555,1.2],[5570,2.3],[5585,1.4],[5600,2.1],[5615,0.8],[5630,1.8],[5645,1.3],[5660,2.5],[5675,1.0],[5690,2.2],[5705,1.5],[5720,2.7],[5735,0.5],[5750,1.7],[5765,1.2],[5780,2.4],[5795,1.0],[5810,2.0],[5825,1.6],[5840,2.8],[5855,1.1],[5870,2.3],[5885,1.4],[5900,2.6],[5915,1.0],[5930,2.0],[5945,1.5],[5960,2.7],[5975,0.9],[5990,2.2],[6005,1.3],[6020,2.9],[6035,1.0],[6050,2.4],[6065,1.6],[6080,2.8],[6095,0.5],[6110,2.1],[6125,1.4],[6140,2.6],[6155,1.0],[6170,2.3],[6185,1.5],[6200,2.8],[6215,0.8],[6230,2.2],[6245,1.2],[6260,2.7],[6275,1.6],[6290,2.4],[6305,1.0],[6320,2.8],[6335,1.3],[6350,2.5],[6365,1.5],[6380,2.9],[6395,1.1],[6410,2.3],[6425,0.8],[6440,2.7],[6455,1.6],[6470,2.9],[6485,1.8],[6500,3.0],[6515,2.4],[6525,4.0],[6535,8.0],[6542,16],[6585,16],[6592,6.7],[6600,6.5],[6610,3.5],[6620,2.0],[6630,0.8],[6640,2.5],[6650,1.0],[6660,3.2],[6670,0.5],[6680,-0.5],[6690,2.0],[6700,3.5],[6710,1.2],[6720,2.8],[6730,0.8],[6740,3.3],[6750,1.5],[6760,2.5],[6770,0.9],[6780,3.0],[6790,1.6],[6800,4.1],[6810,0.8],[6820,2.3]];

var spectra = [spec61234, spec35805, spec49140, spec13704, spec41225];

// ---- layout ----
var big = { tick: 13.5, label: 21, ann: 18.5, annLine: 21.6, ciii: 19, ciiiOff: 15, lw: 1.9, spine: 1.1,
  tickLen: 4.7, xPad: 6.2, yPad: 7.3, yLabelOff: 38, xLabelOff: 47 };
var small = { tick: 11, label: 17, ann: 15.5, annLine: 17.7, ciii: 15.5, ciiiOff: 12.5, lw: 1.55, spine: 0.9,
  tickLen: 3.8, xPad: 4.4, yPad: 5.2, yLabelOff: 33, xLabelOff: 39 };
var boxes = [
  { left: 205, right: 686, top: 8.4, bottom: 367, st: big },
  { left: 768, right: 1248, top: 8.4, bottom: 367, st: big },
  { left: 57, right: 451, top: 442, bottom: 736, st: small },
  { left: 523, right: 920, top: 440, bottom: 736, st: small },
  { left: 989, right: 1379, top: 446, bottom: 736.5, st: small }
];

var svg = d3.select("#fig");
svg.append("rect").attr("width", 1411).attr("height", 782).attr("fill", "#fff");

boxes.forEach(function(b, i) {
  var st = b.st;
  var w = b.right - b.left, h = b.bottom - b.top;
  var data = spectra[i];
  var ext = d3.extent(data, function(d) { return d[0]; });
  var pad = 0.05 * (ext[1] - ext[0]);

  var x = d3.scaleLinear().domain([ext[0] - pad, ext[1] + pad]).range([0, w]);
  var y = d3.scaleLinear().domain([0, yMax[i]]).range([h, 0]);

  var g = svg.append("g").attr("transform", "translate(" + b.left + "," + b.top + ")");

  g.append("clipPath").attr("id", "clip" + i)
    .append("rect").attr("width", w).attr("height", h);

  // CIII] marker
  g.append("line")
    .attr("x1", x(ciiiWave)).attr("x2", x(ciiiWave))
    .attr("y1", 0).attr("y2", h)
    .attr("stroke", "#7f7f7f").attr("stroke-width", 1)
    .attr("stroke-dasharray", "1.2,1.8");

  var line = d3.line()
    .x(function(d) { return x(d[0]); })
    .y(function(d) { return y(d[1]); });

  g.append("path")
    .datum(data)
    .attr("clip-path", "url(#clip" + i + ")")
    .attr("fill", "none")
    .attr("stroke", "#1f77b4")
    .attr("stroke-width", st.lw)
    .attr("stroke-linejoin", "round")
    .attr("d", line);

  // axes
  var xa = g.append("g").attr("transform", "translate(0," + h + ")")
    .call(d3.axisBottom(x).tickValues(xTicks[i]).tickFormat(d3.format("d"))
      .tickSize(st.tickLen).tickSizeOuter(0).tickPadding(st.xPad));
  var ya = g.append("g")
    .call(d3.axisLeft(y).tickValues(yTicks[i]).tickFormat(d3.format("d"))
      .tickSize(st.tickLen).tickSizeOuter(0).tickPadding(st.yPad));
  [xa, ya].forEach(function(a) {
    a.select(".domain").remove();
    a.selectAll(".tick line").attr("stroke", "#000").attr("stroke-width", st.spine);
    a.selectAll(".tick text").style("font-size", st.tick + "px")
      .style("font-family", "DejaVu Sans").attr("fill", "#000");
  });

  g.append("rect").attr("width", w).attr("height", h)
    .attr("fill", "none").attr("stroke", "#000").attr("stroke-width", st.spine);

  // CIII] label
  var cy = h * (1 - 0.645);
  g.append("text")
    .attr("transform", "translate(" + (x(ciiiWave) + st.ciiiOff) + "," + cy + ") rotate(-90)")
    .style("font-size", st.ciii + "px")
    .text("CIII]");

  // axis labels
  g.append("text")
    .attr("x", w / 2).attr("y", h + st.xLabelOff)
    .attr("text-anchor", "middle")
    .style("font-size", st.label + "px")
    .text("Rest Wavelength (\u00c5)");

  var yl = g.append("text")
    .attr("transform", "translate(" + (-st.yLabelOff) + "," + (h / 2) + ") rotate(-90)")
    .attr("text-anchor", "middle")
    .style("font-size", st.label + "px");
  var parts = [["Flux (10", 0], ["\u221221", 1], [" erg s", 0], ["\u22121", 1], [" cm", 0],
    ["\u22122", 1], [" \u00c5", 0], ["\u22121", 1], [")", 0]];
  var prev = 0;
  parts.forEach(function(p) {
    var shift = p[1] ? -0.42 * st.label : 0;
    yl.append("tspan")
      .attr("dy", shift - prev)
      .style("font-size", (p[1] ? 0.7 * st.label : st.label) + "px")
      .style("white-space", "pre")
      .text(p[0]);
    prev = shift;
  });

  // annotation box
  var ann = g.append("g");
  var tx = 0.154 * w, ty = 0.09 * h;
  var t = ann.append("text").attr("x", tx).attr("y", ty)
    .style("font-size", st.ann + "px").style("white-space", "pre");
  t.append("tspan").text("ID: " + ids[i] + " (z= " + redshifts[i] + ")");
  var t2 = ann.append("text").attr("x", tx).attr("y", ty + st.annLine)
    .style("font-size", st.ann + "px").style("white-space", "pre");
  t2.append("tspan").text(" EW");
  t2.append("tspan").attr("dy", 0.2 * st.ann).style("font-size", (0.7 * st.ann) + "px")
    .style("font-style", "italic").text("CIII");
  t2.append("tspan").attr("dy", -0.2 * st.ann).text(" = " + ewText[i]);

  var bb = ann.node().getBBox();
  var px = 0.55 * st.ann, py = 0.38 * st.ann;
  ann.insert("rect", "text")
    .attr("x", bb.x - px).attr("y", bb.y - py)
    .attr("width", bb.width + 2 * px).attr("height", bb.height + 2 * py)
    .attr("rx", 0.5 * st.ann).attr("ry", 0.5 * st.ann)
    .attr("fill", "#fff").attr("stroke", "#333").attr("stroke-width", 1);
});
</script>
</body>
</html>
